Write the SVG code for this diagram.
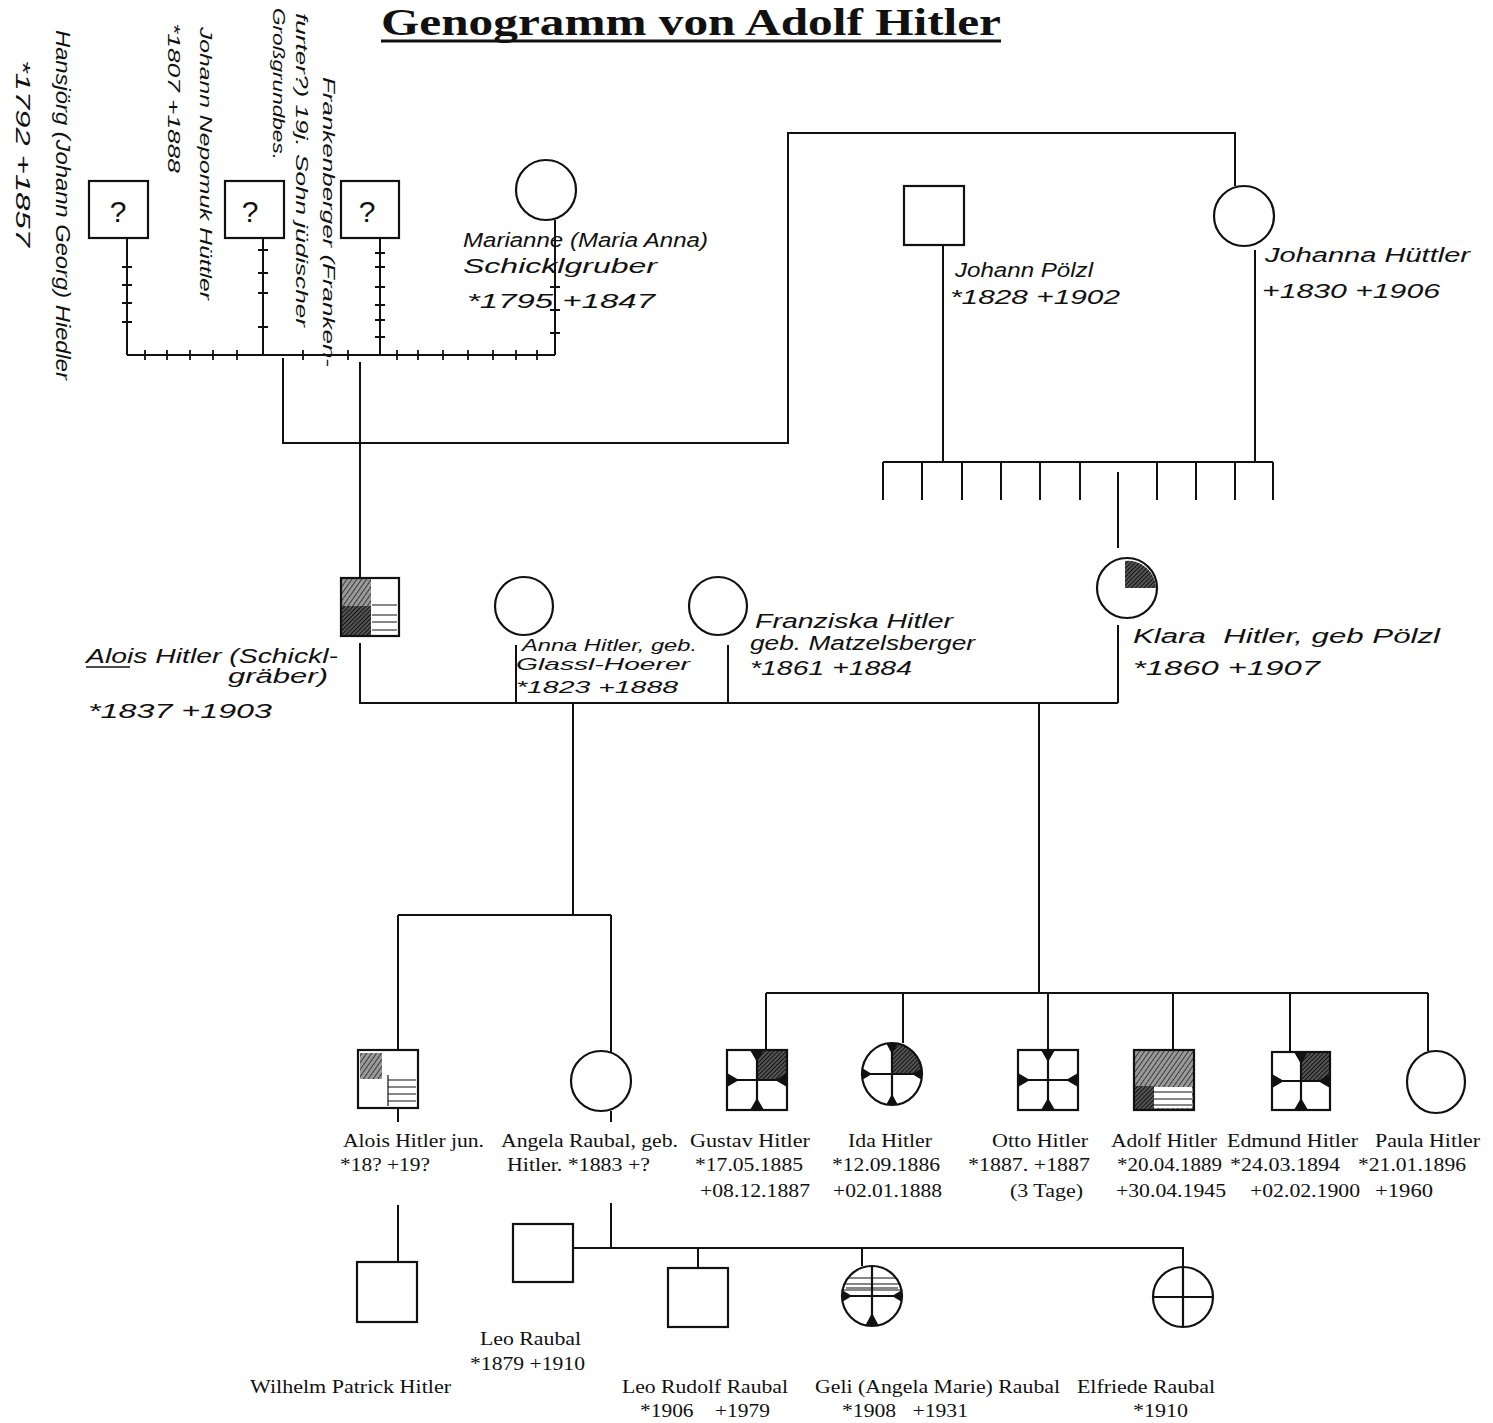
<svg xmlns="http://www.w3.org/2000/svg" width="1493" height="1423" viewBox="0 0 1493 1423">
<style>
.s{fill:none;stroke:#111;stroke-width:2.2}
.ln{fill:none;stroke:#111;stroke-width:2}
.tk{fill:none;stroke:#111;stroke-width:1.8}
.hw{font-family:"Liberation Sans",sans-serif;font-style:italic;font-size:20px;fill:#111}
.hws{font-family:"Liberation Sans",sans-serif;font-style:italic;font-size:17px;fill:#111}
.tp{font-family:"Liberation Serif",serif;font-size:19px;fill:#111}
.q{font-family:"Liberation Sans",sans-serif;font-size:30px;fill:#111}
.wedge{fill:#111}
.thin{stroke:#111;stroke-width:1.2;fill:none}
</style>
<defs>
<pattern id="diag" width="4" height="4" patternUnits="userSpaceOnUse" patternTransform="rotate(35)">
<rect width="4" height="4" fill="#9a9a9a"/><line x1="0" y1="0" x2="0" y2="4" stroke="#222" stroke-width="1.6"/>
</pattern>
<pattern id="dark" width="3" height="3" patternUnits="userSpaceOnUse" patternTransform="rotate(45)">
<rect width="3" height="3" fill="#555"/><line x1="0" y1="0" x2="0" y2="3" stroke="#000" stroke-width="1.6"/>
</pattern>
</defs>

<text x="381" y="35" font-family="Liberation Serif,serif" font-weight="bold" font-size="37" textLength="620" lengthAdjust="spacingAndGlyphs" fill="#111">Genogramm von Adolf Hitler</text>
<line x1="381" y1="41" x2="1001" y2="41" stroke="#111" stroke-width="3"/>

<g id="connectors">
<path class="ln" d="M127 238V355M263 238V355M380 238V355M555 220V355M127 355H555"/>
<path class="tk" d="M122 267H132M122 285H132M122 303H132M122 322H132M258 250H268M258 273H268M258 293H268M258 327H268M375 253H385M375 267H385M375 287H385M375 305H385M375 320H385M375 337H385M550 287H560M550 310H560M550 333H560M145 350V360M167 350V360M190 350V360M213 350V360M237 350V360M303 350V360M348 350V360M397 350V360M418 350V360M443 350V360M468 350V360M493 350V360M516 350V360M537 350V360"/>
<path class="ln" d="M283 358V443H788V133H1235V186"/>
<path class="ln" d="M360 362V578"/>
<path class="ln" d="M360 643V703H1118M516 645V703M728 645V703M1118 625V703"/>
<path class="ln" d="M943 245V462M1255 250V462M883 462H1273"/>
<path class="ln" d="M883 462V500M922 462V500M962 462V500M1001 462V500M1040 462V500M1080 462V500M1157 462V500M1196 462V500M1235 462V500M1273 462V500M1118 472V548"/>
<path class="ln" d="M573 703V915M398 915H611M398 915V1050M611 915V1052"/>
<path class="ln" d="M1039 703V993M766 993H1428M766 993V1050M903 993V1043M1048 993V1050M1173 993V1050M1290 993V1052M1428 993V1051"/>
<path class="ln" d="M398 1108V1122M611 1111V1122"/>
<path class="ln" d="M398 1205V1262M611 1203V1248M573 1248H1183V1267M698 1248V1268M862 1248V1266"/>
</g>

<g id="hansjoerg">
<rect class="s" x="89" y="181" width="59" height="57"/>
<text class="q" x="118" y="222" text-anchor="middle">?</text>
<text class="hw" transform="translate(56,30) rotate(90)" textLength="350" lengthAdjust="spacingAndGlyphs">Hansjörg (Johann Georg) Hiedler</text>
<text class="hw" transform="translate(16,60) rotate(90)" textLength="187" lengthAdjust="spacingAndGlyphs">*1792 +1857</text>
</g>
<g id="johann-nepomuk">
<rect class="s" x="225" y="181" width="59" height="57"/>
<text class="q" x="250" y="222" text-anchor="middle">?</text>
<text class="hws" transform="translate(200,27) rotate(90)" textLength="273" lengthAdjust="spacingAndGlyphs">Johann Nepomuk Hüttler</text>
<text class="hws" transform="translate(168,23) rotate(90)" textLength="150" lengthAdjust="spacingAndGlyphs">*1807 +1888</text>
</g>
<g id="frankenberger">
<rect class="s" x="341" y="181" width="58" height="57"/>
<text class="q" x="367" y="222" text-anchor="middle">?</text>
<text class="hws" transform="translate(323,77) rotate(90)" textLength="290" lengthAdjust="spacingAndGlyphs">Frankenberger (Franken-</text>
<text class="hws" transform="translate(296,13) rotate(90)" textLength="314" lengthAdjust="spacingAndGlyphs">furter?) 19j. Sohn jüdischer</text>
<text class="hws" transform="translate(273,8) rotate(90)" textLength="152" lengthAdjust="spacingAndGlyphs">Großgrundbes.</text>
</g>
<g id="marianne">
<circle class="s" cx="546" cy="190" r="30"/>
<text class="hw" x="463" y="247" textLength="245" lengthAdjust="spacingAndGlyphs">Marianne (Maria Anna)</text>
<text class="hw" x="463" y="273" textLength="194" lengthAdjust="spacingAndGlyphs">Schicklgruber</text>
<text class="hw" x="467" y="308" textLength="188" lengthAdjust="spacingAndGlyphs">*1795 +1847</text>
</g>
<g id="johann-poelzl">
<rect class="s" x="904" y="186" width="60" height="59"/>
<text class="hw" x="955" y="277" textLength="138" lengthAdjust="spacingAndGlyphs">Johann Pölzl</text>
<text class="hw" x="950" y="304" textLength="170" lengthAdjust="spacingAndGlyphs">*1828 +1902</text>
</g>
<g id="johanna-huettler">
<circle class="s" cx="1244" cy="216" r="30"/>
<text class="hw" x="1265" y="262" textLength="205" lengthAdjust="spacingAndGlyphs">Johanna Hüttler</text>
<text class="hw" x="1262" y="298" textLength="178" lengthAdjust="spacingAndGlyphs">+1830 +1906</text>
</g>

<g id="alois">
<rect x="341" y="578" width="30" height="30" fill="url(#diag)"/>
<rect x="341" y="606" width="30" height="30" fill="url(#dark)"/>
<path class="thin" d="M372 605H397M372 615H397M372 622H397M372 630H397"/>
<rect class="s" x="341" y="578" width="58" height="58"/>
<text class="hw" x="86" y="663" textLength="252" lengthAdjust="spacingAndGlyphs">Alois Hitler (Schickl-</text>
<line x1="86" y1="667" x2="130" y2="667" stroke="#111" stroke-width="1.6"/>
<text class="hw" x="228" y="683" textLength="100" lengthAdjust="spacingAndGlyphs">gräber)</text>
<text class="hw" x="88" y="718" textLength="184" lengthAdjust="spacingAndGlyphs">*1837 +1903</text>
</g>
<g id="anna">
<circle class="s" cx="524" cy="606" r="29"/>
<text class="hws" x="522" y="651" textLength="175" lengthAdjust="spacingAndGlyphs">Anna Hitler, geb.</text>
<text class="hws" x="516" y="670" textLength="174" lengthAdjust="spacingAndGlyphs">Glassl-Hoerer</text>
<text class="hws" x="516" y="693" textLength="162" lengthAdjust="spacingAndGlyphs">*1823 +1888</text>
</g>
<g id="franziska">
<circle class="s" cx="718" cy="606" r="29"/>
<text class="hw" x="755" y="628" textLength="198" lengthAdjust="spacingAndGlyphs">Franziska Hitler</text>
<text class="hw" x="750" y="650" textLength="225" lengthAdjust="spacingAndGlyphs">geb. Matzelsberger</text>
<text class="hw" x="750" y="675" textLength="162" lengthAdjust="spacingAndGlyphs">*1861 +1884</text>
</g>
<g id="klara">
<path d="M1125 561A28 28 0 0 1 1156 588H1125Z" fill="url(#dark)"/>
<circle class="s" cx="1127" cy="588" r="30"/>
<text class="hw" x="1133" y="643" textLength="307" lengthAdjust="spacingAndGlyphs" xml:space="preserve">Klara  Hitler, geb Pölzl</text>
<text class="hw" x="1133" y="675" textLength="187" lengthAdjust="spacingAndGlyphs">*1860 +1907</text>
</g>

<g id="alois-jun">
<rect x="360" y="1053" width="22" height="26" fill="url(#diag)"/>
<path class="thin" d="M388 1075V1106M388 1080H416M388 1087H416M388 1094H416M388 1101H416"/>
<rect class="s" x="358" y="1050" width="60" height="58"/>
<text class="tp" x="343" y="1147" textLength="141" lengthAdjust="spacingAndGlyphs">Alois Hitler jun.</text>
<text class="tp" x="340" y="1171" textLength="90" lengthAdjust="spacingAndGlyphs">*18? +19?</text>
</g>
<g id="angela">
<circle class="s" cx="601" cy="1081" r="30"/>
<text class="tp" x="501" y="1147" textLength="177" lengthAdjust="spacingAndGlyphs">Angela Raubal, geb.</text>
<text class="tp" x="507" y="1171" textLength="143" lengthAdjust="spacingAndGlyphs">Hitler. *1883 +?</text>
</g>
<g id="gustav">
<rect x="757" y="1050" width="30" height="30" fill="url(#dark)"/>
<rect class="s" x="727" y="1050" width="60" height="60"/>
<path class="s" d="M757 1050V1110M727 1080H787"/>
<path class="wedge" d="M750 1050H764L757 1062ZM750 1110H764L757 1098ZM727 1073V1087L739 1080ZM787 1073V1087L775 1080Z"/>
<text class="tp" x="690" y="1147" textLength="120" lengthAdjust="spacingAndGlyphs">Gustav Hitler</text>
<text class="tp" x="695" y="1171" textLength="108" lengthAdjust="spacingAndGlyphs">*17.05.1885</text>
<text class="tp" x="700" y="1197" textLength="110" lengthAdjust="spacingAndGlyphs">+08.12.1887</text>
</g>
<g id="ida">
<path d="M892 1043A30 31 0 0 1 922 1074H892Z" fill="url(#dark)"/>
<ellipse class="s" cx="892" cy="1074" rx="30" ry="31"/>
<path class="s" d="M892 1043V1105M862 1074H922"/>
<path class="wedge" d="M886 1043H898L892 1054ZM886 1105H898L892 1094ZM862 1068V1080L872 1074ZM922 1068V1080L912 1074Z"/>
<text class="tp" x="848" y="1147" textLength="84" lengthAdjust="spacingAndGlyphs">Ida Hitler</text>
<text class="tp" x="832" y="1171" textLength="108" lengthAdjust="spacingAndGlyphs">*12.09.1886</text>
<text class="tp" x="833" y="1197" textLength="109" lengthAdjust="spacingAndGlyphs">+02.01.1888</text>
</g>
<g id="otto">
<rect class="s" x="1018" y="1050" width="60" height="60"/>
<path class="s" d="M1048 1050V1110M1018 1080H1078"/>
<path class="wedge" d="M1041 1050H1055L1048 1062ZM1041 1110H1055L1048 1098ZM1018 1073V1087L1030 1080ZM1078 1073V1087L1066 1080Z"/>
<text class="tp" x="992" y="1147" textLength="96" lengthAdjust="spacingAndGlyphs">Otto Hitler</text>
<text class="tp" x="968" y="1171" textLength="122" lengthAdjust="spacingAndGlyphs">*1887. +1887</text>
<text class="tp" x="1010" y="1197" textLength="73" lengthAdjust="spacingAndGlyphs">(3 Tage)</text>
</g>
<g id="adolf">
<rect x="1134" y="1050" width="60" height="60" fill="url(#diag)"/>
<rect x="1134" y="1086" width="20" height="24" fill="url(#dark)"/>
<rect x="1154" y="1087" width="38" height="21" fill="#fff"/>
<path class="thin" d="M1154 1092H1192M1154 1099H1192M1154 1105H1192"/>
<rect class="s" x="1134" y="1050" width="60" height="60"/>
<text class="tp" x="1111" y="1147" textLength="106" lengthAdjust="spacingAndGlyphs">Adolf Hitler</text>
<text class="tp" x="1117" y="1171" textLength="105" lengthAdjust="spacingAndGlyphs">*20.04.1889</text>
<text class="tp" x="1116" y="1197" textLength="110" lengthAdjust="spacingAndGlyphs">+30.04.1945</text>
</g>
<g id="edmund">
<rect x="1301" y="1052" width="29" height="29" fill="url(#dark)"/>
<rect class="s" x="1272" y="1052" width="58" height="58"/>
<path class="s" d="M1301 1052V1110M1272 1081H1330"/>
<path class="wedge" d="M1294 1052H1308L1301 1064ZM1294 1110H1308L1301 1098ZM1272 1074V1088L1284 1081ZM1330 1074V1088L1318 1081Z"/>
<text class="tp" x="1227" y="1147" textLength="131" lengthAdjust="spacingAndGlyphs">Edmund Hitler</text>
<text class="tp" x="1230" y="1171" textLength="110" lengthAdjust="spacingAndGlyphs">*24.03.1894</text>
<text class="tp" x="1250" y="1197" textLength="110" lengthAdjust="spacingAndGlyphs">+02.02.1900</text>
</g>
<g id="paula">
<ellipse class="s" cx="1436" cy="1082" rx="29" ry="31"/>
<text class="tp" x="1375" y="1147" textLength="105" lengthAdjust="spacingAndGlyphs">Paula Hitler</text>
<text class="tp" x="1358" y="1171" textLength="108" lengthAdjust="spacingAndGlyphs">*21.01.1896</text>
<text class="tp" x="1375" y="1197" textLength="58" lengthAdjust="spacingAndGlyphs">+1960</text>
</g>

<g id="wilhelm-patrick">
<rect class="s" x="357" y="1262" width="60" height="60"/>
<text class="tp" x="250" y="1393" textLength="201" lengthAdjust="spacingAndGlyphs">Wilhelm Patrick Hitler</text>
</g>
<g id="leo-raubal">
<rect class="s" x="513" y="1224" width="60" height="58"/>
<text class="tp" x="480" y="1345" textLength="101" lengthAdjust="spacingAndGlyphs">Leo Raubal</text>
<text class="tp" x="470" y="1370" textLength="115" lengthAdjust="spacingAndGlyphs">*1879 +1910</text>
</g>
<g id="leo-rudolf">
<rect class="s" x="668" y="1268" width="60" height="59"/>
<text class="tp" x="622" y="1393" textLength="166" lengthAdjust="spacingAndGlyphs">Leo Rudolf Raubal</text>
<text class="tp" x="640" y="1417" textLength="130" lengthAdjust="spacingAndGlyphs" xml:space="preserve">*1906    +1979</text>
</g>
<g id="geli">
<path class="thin" d="M848 1278H896M845 1284H899M843 1290H901M846 1288H898"/>
<circle class="s" cx="872" cy="1296" r="30"/>
<path class="s" d="M872 1266V1326M842 1296H902"/>
<path class="wedge" d="M865 1326H879L872 1313ZM842 1290V1302L852 1296ZM902 1290V1302L892 1296Z"/>
<text class="tp" x="815" y="1393" textLength="245" lengthAdjust="spacingAndGlyphs">Geli (Angela Marie) Raubal</text>
<text class="tp" x="842" y="1417" textLength="126" lengthAdjust="spacingAndGlyphs" xml:space="preserve">*1908   +1931</text>
</g>
<g id="elfriede">
<circle class="s" cx="1183" cy="1297" r="30"/>
<path class="s" d="M1183 1267V1327M1153 1297H1213"/>
<text class="tp" x="1077" y="1393" textLength="138" lengthAdjust="spacingAndGlyphs">Elfriede Raubal</text>
<text class="tp" x="1133" y="1417" textLength="55" lengthAdjust="spacingAndGlyphs">*1910</text>
</g>
</svg>
